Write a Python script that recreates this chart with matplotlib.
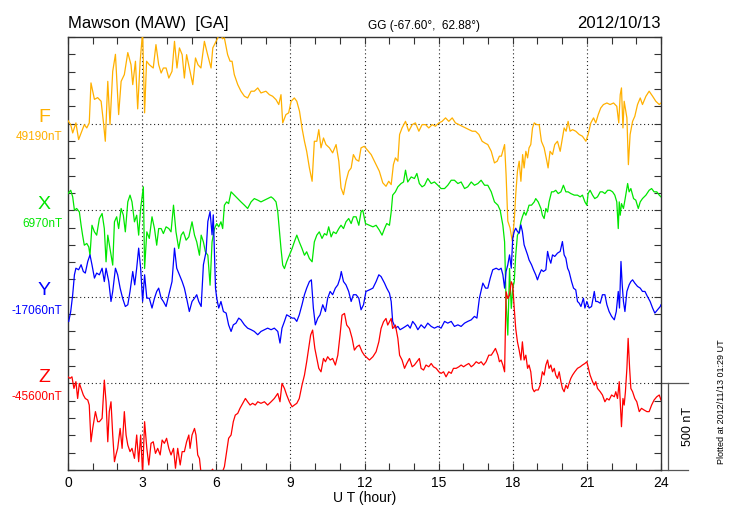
import matplotlib
matplotlib.use('Agg')
import matplotlib.pyplot as plt
import matplotlib.transforms as mtransforms

plt.rcParams['font.family'] = ['Liberation Sans', 'DejaVu Sans']

station = "Mawson (MAW)  [GA]"
coords = "GG (-67.60°,  62.88°)"
date = "2012/10/13"
plotted = "Plotted at 2012/11/13 01:29 UT"

components = ['F', 'X', 'Y', 'Z']
baselines = ['49190nT', '6970nT', '-17060nT', '-45600nT']
colors = ['#FFB000', '#00E600', '#0000FF', '#FF0000']

# deviations from baseline, nT
f_hours = [0.00, 0.11, 0.19, 0.32, 0.43, 0.53, 0.66, 0.76, 0.86, 0.93, 1.07, 1.20, 1.34, 1.43, 1.51, 1.61,
           1.70, 1.81, 1.92, 2.05, 2.15, 2.28, 2.42, 2.55, 2.62, 2.73, 2.82, 2.92, 3.02, 3.10, 3.18, 3.29,
           3.45, 3.56, 3.67, 3.77, 3.86, 3.97, 4.08, 4.21, 4.31, 4.41, 4.51, 4.62, 4.71, 4.80, 4.94, 5.05,
           5.16, 5.26, 5.38, 5.52, 5.65, 5.79, 5.86, 5.96, 6.06, 6.15, 6.25, 6.33, 6.46, 6.56, 6.64, 6.73,
           6.87, 7.00, 7.14, 7.27, 7.41, 7.54, 7.68, 7.81, 8.01, 8.15, 8.28, 8.42, 8.53, 8.62, 8.69, 8.82,
           8.93, 9.03, 9.16, 9.26, 9.37, 9.47, 9.57, 9.66, 9.77, 9.88, 9.97, 10.07, 10.15, 10.24, 10.34,
           10.44, 10.58, 10.71, 10.85, 10.96, 11.05, 11.15, 11.25, 11.36, 11.46, 11.55, 11.66, 11.77,
           11.86, 11.99, 12.27, 12.40, 12.60, 12.74, 12.87, 12.98, 13.08, 13.17, 13.25, 13.35, 13.42,
           13.52, 13.66, 13.79, 13.93, 14.06, 14.20, 14.33, 14.47, 14.60, 14.74, 14.87, 15.01, 15.14,
           15.28, 15.41, 15.55, 15.68, 15.82, 15.95, 16.09, 16.22, 16.36, 16.49, 16.63, 16.76, 16.87,
           16.99, 17.13, 17.26, 17.37, 17.46, 17.54, 17.67, 17.73, 17.80, 17.89, 17.98, 18.06, 18.12,
           18.19, 18.26, 18.33, 18.40, 18.46, 18.53, 18.60, 18.66, 18.73, 18.80, 18.87, 18.97, 19.07,
           19.16, 19.27, 19.38, 19.43, 19.51, 19.61, 19.70, 19.81, 19.92, 20.01, 20.08, 20.16, 20.24,
           20.32, 20.42, 20.55, 20.69, 20.82, 20.96, 21.05, 21.16, 21.27, 21.36, 21.46, 21.56, 21.67,
           21.81, 21.94, 22.08, 22.21, 22.29, 22.35, 22.40, 22.46, 22.51, 22.62, 22.68, 22.75, 22.85,
           22.94, 23.05, 23.16, 23.25, 23.39, 23.52, 23.66, 23.79, 23.93, 24.00]
f_nt = [17, -6, -54, 4, -92, -54, -6, -25, 4, 235, 140, 150, 129, 13, -102, 244,
        -6, 302, 400, 52, 244, 283, 410, 340, 225, 360, 85, 360, 530, 62, 360, 340,
        321, 456, 340, 292, 321, 321, 263, 302, 475, 321, 437, 398, 263, 398, 302, 225,
        379, 340, 321, 475, 398, 321, 437, 465, 494, 540, 490, 494, 398, 360, 360, 283,
        225, 187, 158, 148, 187, 187, 206, 177, 187, 167, 158, 138, 110, 167, 4, 52,
        62, 129, 148, 129, 71, -25, -102, -160, -256, -333, -102, -102, -35, -140, -83,
        -121, -140, -169, -121, -217, -371, -410, -333, -275, -256, -179, -208, -217,
        -140, -131, -179, -217, -275, -342, -362, -333, -352, -237, -198, -217, -63,
        -25, 13, -44, -6, 4, -44, -6, -6, -25, -6, -15, 4, 13,
        33, 13, 33, 4, -6, -15, -25, -35, -44, -44, -63, -102, -112,
        -121, -160, -227, -217, -188, -188, -121, -294, -563, -602, -679, -563, -410,
        -275, -217, -333, -179, -256, -160, -198, -140, -121, -25, 4, -6, -6,
        -102, -140, -217, -256, -160, -179, -121, -102, -160, -83, -25, -44, 13,
        -44, -35, -44, -63, -73, -102, -63, 4, 33, 4, 52, 90, 110,
        119, 110, 119, 100, 4, 167, 206, -25, 129, 33, -237, -63, 13,
        42, 110, 148, 110, 158, 187, 158, 129, 110, 119]

x_hours = [0.00, 0.11, 0.19, 0.26, 0.35, 0.46, 0.53, 0.59, 0.66, 0.76, 0.84, 0.89, 0.97, 1.07, 1.16, 1.27,
           1.38, 1.47, 1.54, 1.61, 1.70, 1.81, 1.88, 1.97, 2.05, 2.15, 2.24, 2.32, 2.42, 2.51, 2.59, 2.69,
           2.78, 2.86, 2.94, 3.05, 3.10, 3.19, 3.29, 3.40, 3.50, 3.59, 3.67, 3.77, 3.86, 3.97, 4.08, 4.17,
           4.27, 4.37, 4.48, 4.58, 4.67, 4.78, 4.89, 5.02, 5.12, 5.21, 5.32, 5.39, 5.48, 5.56, 5.66, 5.75,
           5.83, 5.93, 6.02, 6.10, 6.19, 6.26, 6.33, 6.42, 6.50, 6.60, 6.73, 6.87, 7.00, 7.14, 7.27, 7.41,
           7.54, 7.68, 7.81, 7.95, 8.08, 8.22, 8.31, 8.42, 8.49, 8.55, 8.62, 8.69, 8.76, 8.85, 8.96, 9.07,
           9.16, 9.26, 9.36, 9.47, 9.57, 9.66, 9.77, 9.88, 9.97, 10.07, 10.17, 10.28, 10.38, 10.47, 10.55,
           10.65, 10.74, 10.85, 10.96, 11.05, 11.15, 11.25, 11.36, 11.46, 11.55, 11.66, 11.77, 11.86,
           11.93, 12.04, 12.20, 12.34, 12.47, 12.60, 12.71, 12.81, 12.90, 13.01, 13.08, 13.14, 13.25,
           13.35, 13.48, 13.58, 13.66, 13.75, 13.89, 14.02, 14.12, 14.22, 14.33, 14.43, 14.56, 14.70,
           14.83, 14.97, 15.10, 15.24, 15.37, 15.51, 15.64, 15.78, 15.91, 16.05, 16.18, 16.32, 16.45,
           16.59, 16.72, 16.86, 16.99, 17.13, 17.26, 17.40, 17.49, 17.60, 17.67, 17.73, 17.80, 17.87,
           17.94, 18.00, 18.06, 18.12, 18.19, 18.26, 18.33, 18.39, 18.46, 18.53, 18.60, 18.66, 18.76,
           18.87, 18.93, 19.03, 19.14, 19.20, 19.27, 19.34, 19.41, 19.47, 19.57, 19.65, 19.74, 19.84,
           19.95, 20.05, 20.15, 20.24, 20.35, 20.49, 20.62, 20.73, 20.82, 20.92, 21.00, 21.05, 21.13,
           21.23, 21.32, 21.43, 21.54, 21.63, 21.73, 21.84, 21.94, 22.04, 22.13, 22.21, 22.27, 22.31,
           22.35, 22.40, 22.48, 22.55, 22.65, 22.71, 22.78, 22.89, 22.98, 23.08, 23.16, 23.25, 23.39,
           23.52, 23.62, 23.72, 23.83, 23.93, 24.00]
x_nt = [96, 115, 77, 0, 10, -10, -87, -144, -202, -192, -212, -260, -87, -125, -144, -48,
        -19, -106, -298, -144, -221, -317, -67, -38, -106, 10, -29, -125, 48, 87, 48, -67,
        -29, -144, 10, 135, -337, -125, -163, -38, -106, -202, -106, -106, -135, -96, -106, -125,
        29, -125, -221, -144, -125, -173, -154, -67, -144, -183, -260, -144, -183, -240, -260, -433,
        -183, -106, -77, -96, -67, -106, 29, 48, 38, 106, 87, 67, 48, 29, 10, 48,
        67, 58, 48, 58, 67, 77, 67, 48, -10, -106, -221, -317, -337, -298, -260, -221,
        -183, -144, -183, -221, -260, -240, -279, -298, -183, -144, -125, -163, -135, -144, -96,
        -154, -125, -135, -106, -87, -106, -67, -48, -77, -38, -38, -87, -10,
        0, -77, -87, -96, -87, -115, -144, -106, -77, -87, -10, 87, 106,
        135, 154, 163, 231, 163, 192, 183, 212, 154, 135, 144, 183, 154,
        163, 144, 125, 125, 144, 173, 173, 154, 163, 125, 135, 163, 144,
        154, 173, 144, 144, 106, 48, 29, 0, -87, -183, -529, -721, -337,
        -567, -452, -413, -260, -144, -125, -67, -38, -10, -29, 0, 29, 29,
        48, 67, 48, 10, -29, -48, 10, -10, 48, 106, 106, 115, 96,
        106, 144, 106, 106, 96, 87, 87, 77, 87, 48, 29, 96, 115,
        87, 67, 77, 106, 106, 96, 115, 115, 106, 87, 48, -106, 48,
        -29, 38, 10, 67, 154, 106, 125, 67, 58, 10, 48, 67, 87,
        115, 125, 106, 106, 87, 77]

y_hours = [0.03, 0.11, 0.19, 0.26, 0.32, 0.43, 0.53, 0.62, 0.70, 0.80, 0.89, 0.97, 1.07, 1.16, 1.27, 1.38,
           1.47, 1.54, 1.65, 1.74, 1.81, 1.92, 2.01, 2.11, 2.21, 2.32, 2.42, 2.51, 2.62, 2.70, 2.78, 2.86,
           2.94, 3.02, 3.10, 3.19, 3.29, 3.40, 3.50, 3.59, 3.67, 3.77, 3.86, 3.97, 4.08, 4.21, 4.31, 4.40,
           4.51, 4.62, 4.71, 4.80, 4.91, 5.02, 5.12, 5.21, 5.29, 5.39, 5.48, 5.59, 5.66, 5.75, 5.83, 5.88,
           5.97, 6.02, 6.10, 6.19, 6.29, 6.40, 6.50, 6.60, 6.69, 6.80, 6.91, 7.00, 7.14, 7.27, 7.41, 7.54,
           7.68, 7.81, 7.95, 8.08, 8.22, 8.35, 8.49, 8.58, 8.66, 8.76, 8.85, 8.96, 9.07, 9.16, 9.26, 9.36,
           9.47, 9.57, 9.66, 9.77, 9.85, 9.93, 10.01, 10.11, 10.20, 10.31, 10.42, 10.51, 10.61, 10.71,
           10.82, 10.92, 11.01, 11.06, 11.15, 11.25, 11.36, 11.46, 11.55, 11.66, 11.77, 11.86, 11.96,
           12.06, 12.20, 12.34, 12.47, 12.58, 12.67, 12.81, 12.90, 13.01, 13.08, 13.14, 13.25, 13.35,
           13.44, 13.55, 13.66, 13.75, 13.85, 13.95, 14.06, 14.16, 14.29, 14.43, 14.56, 14.70, 14.83,
           14.97, 15.10, 15.24, 15.37, 15.51, 15.64, 15.78, 15.91, 16.05, 16.18, 16.32, 16.45, 16.55,
           16.65, 16.79, 16.90, 16.99, 17.09, 17.19, 17.33, 17.44, 17.53, 17.60, 17.67, 17.73, 17.80,
           17.87, 17.94, 18.00, 18.06, 18.12, 18.19, 18.26, 18.33, 18.39, 18.46, 18.53, 18.60, 18.66,
           18.76, 18.84, 18.93, 19.00, 19.07, 19.16, 19.24, 19.34, 19.41, 19.47, 19.54, 19.61, 19.70,
           19.81, 19.92, 20.01, 20.08, 20.15, 20.22, 20.28, 20.38, 20.46, 20.55, 20.62, 20.69, 20.76,
           20.86, 20.92, 21.00, 21.09, 21.19, 21.30, 21.36, 21.43, 21.54, 21.63, 21.73, 21.81, 21.90,
           22.00, 22.11, 22.19, 22.27, 22.32, 22.38, 22.43, 22.48, 22.54, 22.62, 22.71, 22.78, 22.85,
           22.94, 23.05, 23.16, 23.25, 23.35, 23.45, 23.56, 23.66, 23.75, 23.86, 23.97, 24.00]
y_nt = [-142, -85, 12, 127, 165, 156, 185, 146, 137, 204, 242, 185, 108, 137, 127, 165,
        88, 165, 88, -27, 31, 165, 127, 50, -8, -56, -46, 31, 146, 69, 165, 281,
        165, -27, 127, -8, -8, -65, -8, 31, 50, -8, -27, -56, 12, 88, 281, 165,
        127, 88, 50, -8, -85, -27, -8, 12, -27, -56, 185, 262, 435, 492, 358, 473,
        50, -8, -65, -27, -85, -94, -162, -200, -162, -152, -123, -133, -162, -181, -190, -200,
        -219, -200, -190, -181, -190, -181, -200, -267, -181, -142, -104, -113, -123, -123, -142, -104,
        -46, 12, 50, 88, 98, -65, -162, -123, -104, -46, -85, -8, 31, 12,
        50, 69, 108, 146, 88, 69, 31, -27, 12, 12, -8, -75, -46,
        31, 40, 50, 88, 127, 117, 79, 50, 21, -27, -142, -181, -171,
        -190, -181, -171, -162, -181, -142, -162, -190, -162, -181, -152, -171, -181,
        -171, -181, -142, -152, -142, -171, -162, -171, -152, -142, -133, -113, -123,
        -8, 79, 50, 50, 108, 156, 165, 156, 165, 127, 50, 146, 185,
        242, 165, 338, 377, 396, 377, 367, 415, 377, 300, 271, 242, 213,
        185, 156, 127, 98, 127, 156, 146, 156, 262, 223, 194, 242, 233,
        252, 262, 319, 242, 223, 165, 146, 88, 50, 40, -27, -37, -56,
        -8, -65, -27, -65, -56, 31, -27, -27, -37, 12, 12, -46, -85,
        -113, -133, -85, 31, -65, 204, 69, -27, -85, 31, 69, 88, 98,
        79, 60, 50, 31, 31, 2, -27, -65, -94, -75, -56, -46]

z_hours = [0.00, 0.08, 0.16, 0.24, 0.32, 0.39, 0.46, 0.53, 0.62, 0.70, 0.80, 0.86, 0.93, 1.00, 1.11, 1.20,
           1.27, 1.38, 1.47, 1.54, 1.61, 1.67, 1.74, 1.81, 1.88, 1.94, 2.01, 2.11, 2.19, 2.28, 2.35, 2.42,
           2.51, 2.59, 2.69, 2.78, 2.86, 2.94, 3.02, 3.10, 3.19, 3.27, 3.36, 3.45, 3.54, 3.63, 3.73, 3.81,
           3.90, 3.99, 4.08, 4.17, 4.27, 4.35, 4.44, 4.54, 4.62, 4.71, 4.80, 4.89, 4.94, 5.02, 5.12, 5.18,
           5.25, 5.32, 5.40, 5.55, 5.75, 5.85, 5.95, 6.10, 6.28, 6.33, 6.42, 6.50, 6.60, 6.69, 6.77, 6.87,
           6.96, 7.07, 7.18, 7.27, 7.37, 7.47, 7.58, 7.68, 7.81, 7.95, 8.08, 8.22, 8.35, 8.49, 8.58, 8.66,
           8.76, 8.85, 8.96, 9.07, 9.16, 9.26, 9.36, 9.47, 9.57, 9.66, 9.74, 9.82, 9.90, 9.99, 10.07,
           10.15, 10.24, 10.34, 10.42, 10.51, 10.61, 10.71, 10.82, 10.92, 11.01, 11.09, 11.19, 11.28,
           11.39, 11.50, 11.59, 11.69, 11.79, 11.90, 11.99, 12.20, 12.34, 12.47, 12.58, 12.67, 12.77,
           12.87, 12.94, 13.01, 13.08, 13.14, 13.25, 13.35, 13.42, 13.52, 13.62, 13.71, 13.82, 13.93,
           14.02, 14.12, 14.22, 14.29, 14.39, 14.49, 14.60, 14.70, 14.79, 14.90, 15.01, 15.10, 15.20,
           15.30, 15.41, 15.51, 15.60, 15.71, 15.82, 15.91, 16.01, 16.11, 16.22, 16.32, 16.41, 16.52,
           16.63, 16.72, 16.82, 16.92, 17.03, 17.13, 17.22, 17.30, 17.40, 17.46, 17.53, 17.60, 17.67,
           17.71, 17.73, 17.80, 17.87, 17.94, 18.00, 18.06, 18.12, 18.19, 18.26, 18.33, 18.39, 18.46,
           18.53, 18.60, 18.66, 18.73, 18.80, 18.87, 18.93, 19.03, 19.11, 19.20, 19.27, 19.34, 19.41,
           19.47, 19.54, 19.61, 19.68, 19.74, 19.81, 19.88, 19.95, 20.01, 20.08, 20.15, 20.22, 20.28,
           20.35, 20.42, 20.51, 20.62, 20.73, 20.82, 20.92, 21.00, 21.05, 21.13, 21.23, 21.30, 21.36,
           21.43, 21.54, 21.63, 21.73, 21.81, 21.90, 22.00, 22.11, 22.17, 22.24, 22.31, 22.35, 22.40,
           22.46, 22.51, 22.56, 22.62, 22.67, 22.73, 22.78, 22.85, 22.94, 23.02, 23.12, 23.21, 23.32,
           23.43, 23.52, 23.62, 23.72, 23.83, 23.93, 24.00]
z_nt = [38, 29, 38, -29, 10, -87, 0, -29, -67, -87, -96, -125, -337, -260, -163, -221,
        -221, -202, 19, -106, -337, -163, -106, -298, -452, -413, -375, -260, -375, -163, -298, -356,
        -394, -375, -433, -298, -452, -298, -520, -221, -375, -471, -346, -337, -404, -375, -413, -327,
        -346, -317, -375, -413, -375, -490, -375, -471, -394, -394, -337, -298, -375, -298, -260, -298,
        -413, -433, -540, -560, -520, -495, -530, -560, -500, -481, -394, -317, -298, -221, -183, -173,
        -144, -115, -87, -106, -125, -115, -125, -106, -115, -106, -125, -106, -87, -58, -106, 0,
        -29, -67, -106, -135, -125, -115, -87, -10, 48, 125, 202, 279, 308, 202, 144,
        87, 67, 144, 125, 154, 135, 144, 106, 163, 279, 394, 404, 337,
        317, 260, 192, 212, 221, 183, 163, 135, 154, 183, 240, 317, 356,
        375, 337, 356, 375, 317, 337, 260, 163, 135, 87, 115, 144, 96,
        106, 125, 144, 87, 77, 106, 96, 115, 96, 87, 67, 58, 67,
        38, 67, 58, 87, 87, 96, 106, 96, 106, 115, 96, 106, 125,
        115, 125, 106, 125, 163, 163, 183, 202, 163, 125, 135, 106, 67,
        375, 529, 490, 510, 587, 567, 433, 317, 240, 192, 135, 240, 135,
        163, 87, 106, 67, -29, -48, -38, -38, -10, 67, 48, 106, 135,
        87, 106, 67, 87, 48, 29, 67, 10, -29, -48, -10, -29, 0,
        29, 48, 67, 87, 96, 106, 115, 125, 96, 48, 10, -10, 10,
        -29, -48, -67, -106, -87, -96, -67, -77, -48, -87, 10, -106, -250,
        -87, -125, -48, 87, 260, 87, -29, -48, -87, -106, -163, -144, -154,
        -163, -163, -125, -96, -77, -67, -96]

series = [(f_hours, f_nt), (x_hours, x_nt), (y_hours, y_nt), (z_hours, z_nt)]
offsets = [2000, 1500, 1000, 500]   # vertical stacking, 500 nT per band

fig = plt.figure(figsize=(7.3, 5.2), dpi=100)
ax = fig.add_axes([68 / 730, 50 / 520, 593 / 730, 433 / 520])
trans = mtransforms.blended_transform_factory(ax.transAxes, ax.transData)

# dotted grid
for h in range(3, 24, 3):
    ax.axvline(h, color='#222222', ls=(0, (1, 2.5)), lw=0.8, zorder=1)
for off in offsets:
    ax.axhline(off, color='#222222', ls=(0, (1, 2.5)), lw=0.8, zorder=1)

for (hrs, vals), off, c in zip(series, offsets, colors):
    ax.plot(hrs, [v + off for v in vals], color=c, lw=0.9, zorder=3)

for comp, base, off, c in zip(components, baselines, offsets, colors):
    ax.text(-0.0405, off + 35, comp, color=c, fontsize=14, ha='center', va='center', transform=trans)
    ax.text(-0.010, off - 80, base, color=c, fontsize=8.5, ha='right', va='center', transform=trans)

ax.set_xlim(0, 24)
ax.set_ylim(0, 2500)
ax.set_xticks(range(0, 25, 3))
ax.set_xticks(range(25), minor=True)
ax.set_yticks(range(0, 2501, 100))
ax.tick_params(which='both', direction='in', top=True, right=True, length=5, width=0.8, color='#333333')
ax.tick_params(axis='y', labelleft=False)
ax.tick_params(axis='x', labelsize=10, pad=4)
ax.set_xlabel('U T (hour)', fontsize=10, labelpad=1)
for s in ax.spines.values():
    s.set_color('#333333')
    s.set_linewidth(1.0)

# 500 nT scale bar on the right
ax.plot([1.0, 1.0455], [500, 500], transform=trans, clip_on=False, color='#555555', lw=0.9)
ax.plot([1.0, 1.0455], [0, 0], transform=trans, clip_on=False, color='#555555', lw=0.9)
ax.plot([1.0118, 1.0118], [0, 500], transform=trans, clip_on=False, color='#555555', lw=0.9)
ax.text(1.0455, 250, '500 nT', rotation=90, ha='center', va='center', fontsize=9, transform=trans)

fig.text(68 / 730, 1 - 28 / 520, station, fontsize=12, ha='left', va='baseline')
fig.text(424 / 730, 1 - 29 / 520, coords, fontsize=8.5, ha='center', va='baseline')
fig.text(661 / 730, 1 - 28 / 520, date, fontsize=12, ha='right', va='baseline')
fig.text(722 / 730, 1 - 402 / 520, plotted, fontsize=6.5, rotation=90, ha='center', va='center')

fig.savefig('out.png', dpi=100)
